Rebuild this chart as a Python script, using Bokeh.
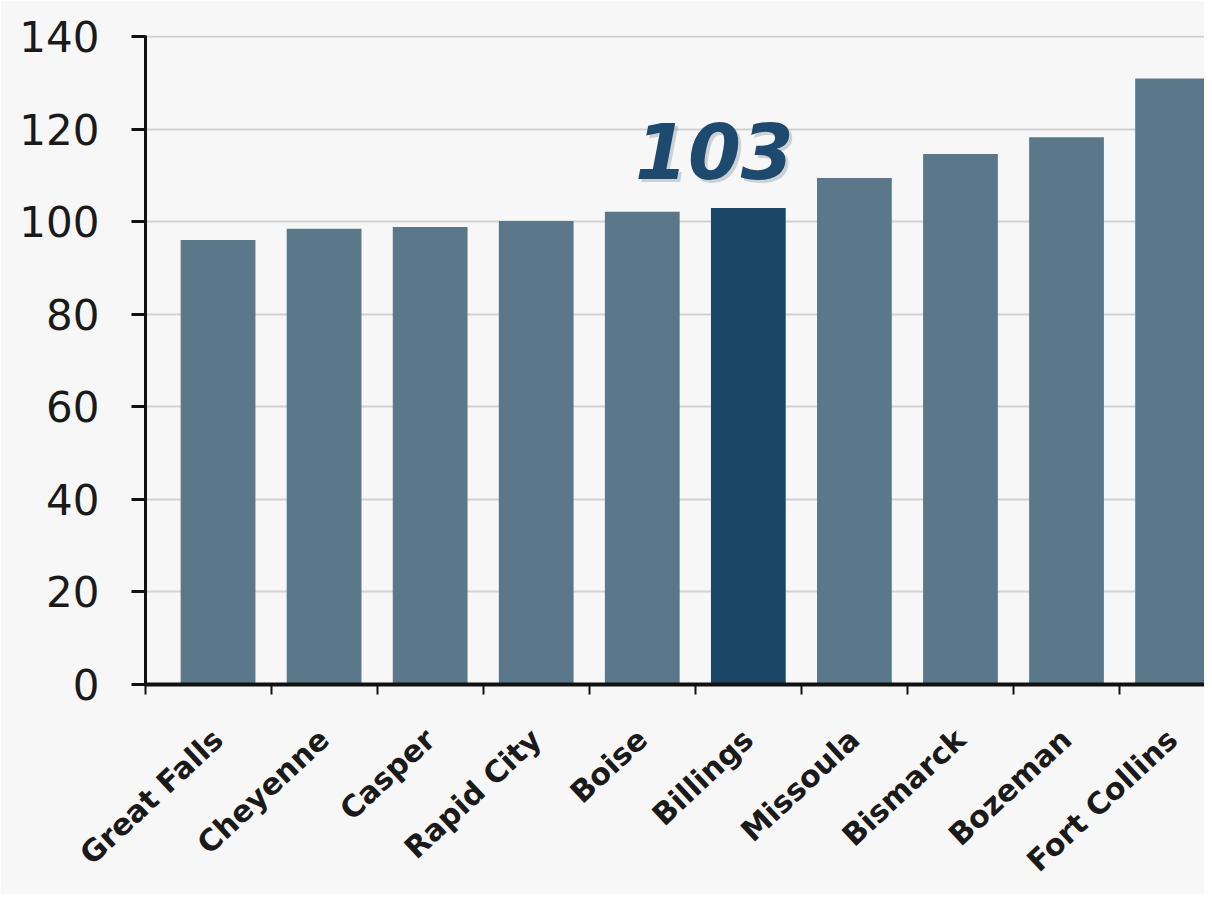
from bokeh.plotting import figure
from bokeh.models import Range1d, FixedTicker, Label, ColumnDataSource
from bokeh.embed import file_html
from bokeh.resources import INLINE

cities = ["Great Falls", "Cheyenne", "Casper", "Rapid City", "Boise",
          "Billings", "Missoula", "Bismarck", "Bozeman", "Fort Collins"]
values = [96.1, 98.5, 98.9, 100.2, 102.2, 103.0, 109.5, 114.7, 118.3, 131.0]
highlight = "Billings"
highlight_label = "103"
y_ticks = [0, 20, 40, 60, 80, 100, 120, 140]

xs = list(range(len(cities)))
colors = ["#1b4565" if c == highlight else "#5b788a" for c in cities]
src = ColumnDataSource(dict(x=xs, top=values, color=colors, city=cities))

x_start, x_end = -0.684, 9.301
bg = "#f7f7f7"
p = figure(width=1204, height=894, output_backend="svg", toolbar_location=None,
           x_range=Range1d(x_start, x_end), y_range=Range1d(0, 140.3),
           min_border_left=145, min_border_top=35, min_border_bottom=210,
           min_border_right=0)
p.background_fill_color = bg
p.border_fill_color = bg
p.outline_line_color = None

p.vbar(x="x", top="top", width=0.705, fill_color="color", line_color=None, source=src)

# y axis
p.yaxis.ticker = FixedTicker(ticks=y_ticks)
p.yaxis.axis_line_color = "#111111"
p.yaxis.axis_line_width = 3
p.yaxis.major_tick_line_color = "#111111"
p.yaxis.major_tick_line_width = 3
p.yaxis.major_tick_out = 14
p.yaxis.major_tick_in = 0
p.yaxis.minor_tick_line_color = None
p.yaxis.major_label_standoff = 32
p.yaxis.major_label_text_font = "DejaVu Sans"
p.yaxis.major_label_text_font_size = "42px"
p.yaxis.major_label_text_color = "#1a1a1a"

p.ygrid.ticker = FixedTicker(ticks=y_ticks)
p.ygrid.grid_line_color = "#d2d2d2"
p.ygrid.grid_line_width = 2
p.xgrid.grid_line_color = None

# x axis: labels at bar centres, small ticks between bars
p.xaxis.ticker = FixedTicker(ticks=xs,
                             minor_ticks=[x_start] + [i + 0.5 for i in range(len(cities) - 1)])
p.xaxis.major_label_overrides = {i: c for i, c in zip(xs, cities)}
p.xaxis.axis_line_color = "#111111"
p.xaxis.axis_line_width = 4
p.xaxis.major_tick_line_color = None
p.xaxis.major_tick_out = 0
p.xaxis.major_tick_in = 0
p.xaxis.minor_tick_line_color = "#111111"
p.xaxis.minor_tick_line_width = 2
p.xaxis.minor_tick_out = 10
p.xaxis.minor_tick_in = 0
p.xaxis.major_label_orientation = 0.75
p.xaxis.major_label_standoff = 40
p.xaxis.major_label_text_font = "DejaVu Sans"
p.xaxis.major_label_text_font_style = "bold"
p.xaxis.major_label_text_font_size = "30px"
p.xaxis.major_label_text_color = "#1a1a1a"

hi = cities.index(highlight)
shadow = Label(x=hi, y=values[hi], text=highlight_label, x_offset=-31, y_offset=54,
               text_align="center", text_baseline="alphabetic",
               text_font="DejaVu Sans", text_font_style="bold italic",
               text_font_size="76px", text_color="#7a8a99", text_alpha=0.35)
lab = Label(x=hi, y=values[hi], text=highlight_label, x_offset=-34, y_offset=57,
            text_align="center", text_baseline="alphabetic",
            text_font="DejaVu Sans", text_font_style="bold italic",
            text_font_size="76px", text_color="#1d4a6e")
p.add_layout(shadow)
p.add_layout(lab)

open("out.html", "w").write(file_html(p, INLINE))
